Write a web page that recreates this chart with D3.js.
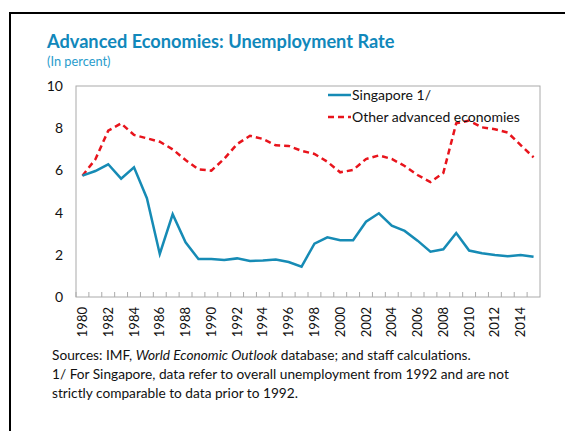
<!DOCTYPE html>
<html><head><meta charset="utf-8">
<script src="https://cdn.jsdelivr.net/npm/d3@7"></script>
<style>body{margin:0;background:#fff;font-family:Lato,"Open Sans",sans-serif;}</style>
</head><body><svg id="c" width="565" height="431"></svg>
<script>
const years = d3.range(1980, 2016);
const singapore = [5.75,5.97,6.29,5.61,6.15,4.68,2.04,3.92,2.59,1.80,1.80,1.75,1.83,1.71,1.73,1.78,1.66,1.44,2.53,2.83,2.69,2.69,3.57,3.97,3.38,3.13,2.67,2.15,2.26,3.03,2.20,2.07,1.99,1.93,1.99,1.91];
const otherAdv = [5.75,6.52,7.88,8.23,7.68,7.52,7.36,7.00,6.49,6.05,5.99,6.55,7.25,7.64,7.49,7.19,7.16,6.93,6.78,6.41,5.91,6.02,6.54,6.71,6.54,6.21,5.78,5.45,5.88,8.23,8.36,8.04,7.95,7.79,7.20,6.62];
const yTicks = [0,2,4,6,8,10];
const xTickYears = years.filter(y => y % 2 === 0);
const seriesNames = ["Singapore 1/", "Other advanced economies"];

const svg = d3.select("#c");
// frame
svg.append("line").attr("x1",9).attr("x2",565).attr("y1",13).attr("y2",13).attr("stroke","#000").attr("stroke-width",2);
svg.append("line").attr("x1",10).attr("x2",10).attr("y1",12).attr("y2",431).attr("stroke","#000").attr("stroke-width",2);

svg.append("text").attr("x",47).attr("y",48).text("Advanced Economies: Unemployment Rate")
  .attr("font-size",18.2).attr("font-weight","bold").attr("fill","#1188bb");
svg.append("text").attr("x",47).attr("y",66).text("(In percent)")
  .attr("font-size",12.8).attr("fill","#2a9ccc");

const L = 76, R = 540, T = 86, B = 297;
const x = d3.scaleBand().domain(years).range([L, R]);
const y = d3.scaleLinear().domain([0,10]).range([B, T]);

svg.append("rect").attr("x",L).attr("y",T).attr("width",R-L).attr("height",B-T)
  .attr("fill","none").attr("stroke","#aaa").attr("stroke-width",1);

const ya = svg.append("g").attr("transform",`translate(${L},0)`)
  .call(d3.axisLeft(y).tickValues(yTicks).tickSize(0).tickPadding(13));
ya.select(".domain").remove();
ya.selectAll("text").attr("font-size",14).attr("font-family","Lato,'Open Sans',sans-serif").attr("fill","#111");

const xa = svg.append("g").attr("transform",`translate(0,${B})`)
  .call(d3.axisBottom(x).tickValues(years).tickSize(-5).tickFormat(d => xTickYears.includes(d) ? d : ""));
xa.select(".domain").remove();
xa.selectAll("line").attr("stroke","#aaa").attr("transform",`translate(${-x.bandwidth()/2},0)`);
xa.selectAll("text").attr("font-size",13).attr("font-family","Lato,'Open Sans',sans-serif").attr("fill","#111")
  .attr("transform","rotate(-90)").attr("text-anchor","end").attr("dx","-6").attr("dy","0.35em").attr("y",0).attr("x",-4);

const line = d3.line().x((d,i) => x(years[i]) + x.bandwidth()/2).y(d => y(d));
svg.append("path").datum(otherAdv).attr("d",line).attr("fill","none")
  .attr("stroke","#e8141c").attr("stroke-width",2.5).attr("stroke-dasharray","6,4");
svg.append("path").datum(singapore).attr("d",line).attr("fill","none")
  .attr("stroke","#168bb5").attr("stroke-width",2.5);

const lg = svg.append("g");
lg.append("line").attr("x1",328).attr("x2",351).attr("y1",95).attr("y2",95).attr("stroke","#168bb5").attr("stroke-width",2.5);
lg.append("text").attr("x",352).attr("y",100).text(seriesNames[0]).attr("font-size",14).attr("fill","#111");
lg.append("line").attr("x1",328).attr("x2",351).attr("y1",117).attr("y2",117).attr("stroke","#e8141c").attr("stroke-width",2.5).attr("stroke-dasharray","6,4");
lg.append("text").attr("x",352).attr("y",122).text(seriesNames[1]).attr("font-size",14).attr("fill","#111");

const fn = svg.append("g").attr("font-size",13.7).attr("fill","#111");
const t1 = fn.append("text").attr("x",52).attr("y",360);
t1.append("tspan").text("Sources: IMF, ");
t1.append("tspan").attr("font-style","italic").text("World Economic Outlook");
t1.append("tspan").text(" database; and staff calculations.");
fn.append("text").attr("x",52).attr("y",379).text("1/ For Singapore, data refer to overall unemployment from 1992 and are not");
fn.append("text").attr("x",52).attr("y",398).text("strictly comparable to data prior to 1992.");
</script></body></html>
